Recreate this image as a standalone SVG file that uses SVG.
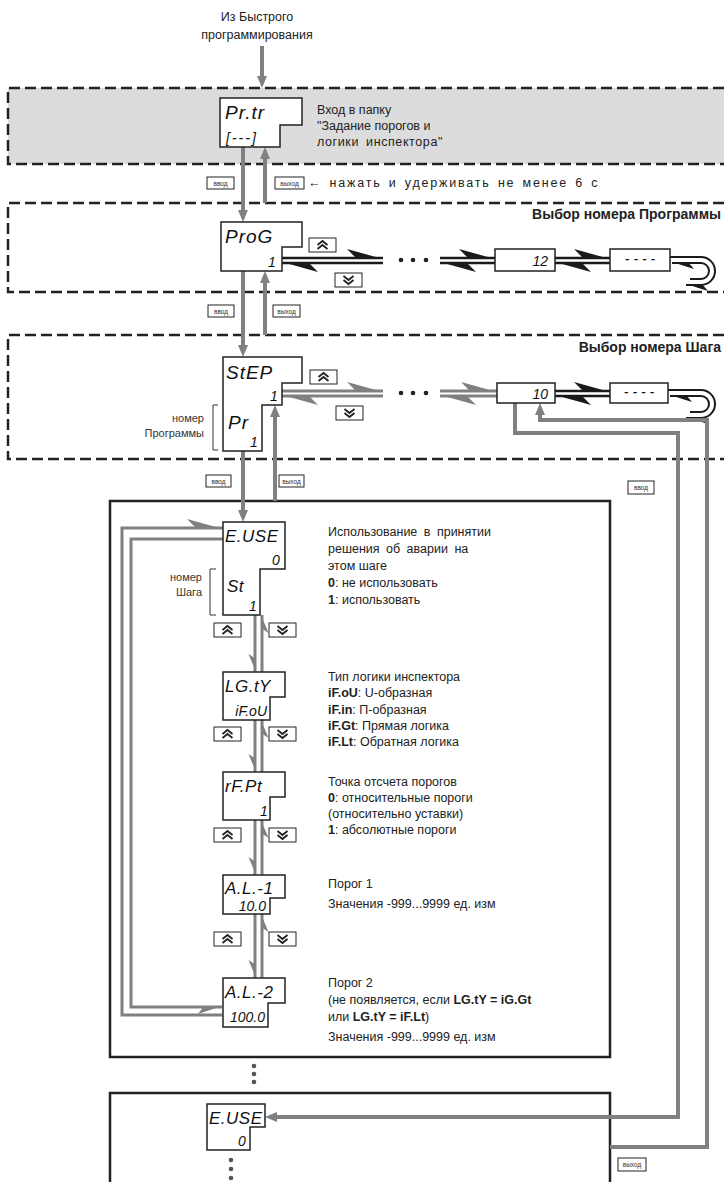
<svg xmlns="http://www.w3.org/2000/svg" width="724" height="1182" viewBox="0 0 724 1182">
<defs>
<style>
.t{font-family:"Liberation Sans",Arial,sans-serif;font-size:12.5px;fill:#222}
.b{font-weight:bold}
.ttl{font-family:"Liberation Sans",Arial,sans-serif;font-size:14px;font-weight:bold;fill:#222}
.sm{font-family:"Liberation Sans",Arial,sans-serif;font-size:11px;fill:#333}
.seg{font-family:"Liberation Sans",Arial,sans-serif;font-style:italic;font-size:19px;fill:#111;letter-spacing:1px}
.segm{font-family:"Liberation Sans",Arial,sans-serif;font-style:italic;font-size:17px;fill:#111;letter-spacing:0.5px}
.seg2{font-family:"Liberation Sans",Arial,sans-serif;font-style:italic;font-size:14px;fill:#111}
.disp{fill:#fff;stroke:#222;stroke-width:1.5}
.band{stroke:#222;stroke-width:2.5;stroke-dasharray:11 5}
.ga{fill:none;stroke:#808080;stroke-width:4}
.gh{fill:none;stroke:#808080;stroke-width:3}
.bh{fill:none;stroke:#1a1a1a;stroke-width:2.5}
.lb{fill:#fff;stroke:#222;stroke-width:1}
.lt{font-family:"Liberation Sans",Arial,sans-serif;font-size:6.5px;fill:#333}
.ch{fill:none;stroke:#222;stroke-width:1.8}
</style>
<marker id="ag" viewBox="0 0 12 10" refX="6" refY="5" markerWidth="12" markerHeight="10" markerUnits="userSpaceOnUse" orient="auto"><path d="M0,0 L12,5 L0,10 Z" fill="#808080"/></marker>
<marker id="hLb" viewBox="0 0 36 12" refX="36" refY="10" markerWidth="36" markerHeight="12" markerUnits="userSpaceOnUse" orient="auto"><path d="M36,11 L0,1 L10,11 Z" fill="#1a1a1a"/></marker>
<marker id="hLbS" viewBox="0 0 22 10" refX="22" refY="8" markerWidth="22" markerHeight="10" markerUnits="userSpaceOnUse" orient="auto"><path d="M22,9 L0,2 L6,9 Z" fill="#1a1a1a"/></marker>
<marker id="hLg" viewBox="0 0 36 12" refX="36" refY="10" markerWidth="36" markerHeight="12" markerUnits="userSpaceOnUse" orient="auto"><path d="M36,11 L0,1 L10,11 Z" fill="#808080"/></marker>
<marker id="hRg" viewBox="0 0 18 9" refX="18" refY="1" markerWidth="18" markerHeight="9" markerUnits="userSpaceOnUse" orient="auto"><path d="M18,0 L0,7.5 L5,0 Z" fill="#808080"/></marker>
<marker id="hRgB" viewBox="0 0 24 10" refX="24" refY="1" markerWidth="24" markerHeight="10" markerUnits="userSpaceOnUse" orient="auto"><path d="M24,0 L0,8 L6,0 Z" fill="#808080"/></marker>
<g id="bup"><rect x="0" y="0" width="27" height="14" class="lb" stroke-width="1.3"/><path class="ch" d="M8.5,7 L13.5,3 L18.5,7 M8.5,11 L13.5,7 L18.5,11"/></g>
<g id="bdn"><rect x="0" y="0" width="27" height="14" class="lb" stroke-width="1.3"/><path class="ch" d="M8.5,3 L13.5,7 L18.5,3 M8.5,7 L13.5,11 L18.5,7"/></g>
</defs>
<rect width="724" height="1182" fill="#fff"/>

<g id="band-entry"><path class="band" fill="#dcdcdc" d="M740,88 H8 V164 H740"/></g>
<g id="band-prog"><path class="band" fill="none" d="M740,203 H8 V292 H740"/>
<text class="ttl" x="721" y="219" text-anchor="end">Выбор номера Программы</text></g>
<g id="band-step"><path class="band" fill="none" d="M740,335 H8 V459 H740"/>
<text class="ttl" x="721" y="352" text-anchor="end">Выбор номера Шага</text></g>

<g id="big-box"><rect x="110" y="501" width="500" height="556" fill="none" stroke="#222" stroke-width="2.5"/></g>
<g id="lower-box"><path d="M110,1190 V1093 H610 V1190" fill="none" stroke="#222" stroke-width="2.5"/></g>

<g id="connectors">
<path class="ga" d="M262,46 V82" marker-end="url(#ag)"/>
<path class="ga" d="M243,147 V216" marker-end="url(#ag)"/>
<path class="ga" d="M265,203 V153" marker-end="url(#ag)"/>
<path class="ga" d="M243,271 V351" marker-end="url(#ag)"/>
<path class="ga" d="M265,335 V277" marker-end="url(#ag)"/>
<path class="ga" d="M243,451 V516" marker-end="url(#ag)"/>
<path class="ga" d="M275,501 V411" marker-end="url(#ag)"/>
<path class="bh" d="M282,258 H383" marker-end="url(#hLb)"/>
<path class="bh" d="M383,263 H282" marker-end="url(#hLb)"/>
<path class="bh" d="M440,258 H495" marker-end="url(#hLb)"/>
<path class="bh" d="M495,263 H440" marker-end="url(#hLb)"/>
<path class="bh" d="M555,258 H610" marker-end="url(#hLb)"/>
<path class="bh" d="M610,263 H555" marker-end="url(#hLb)"/>
<path fill="none" stroke="#1a1a1a" stroke-width="2" d="M670,257 H701 A14,14 0 0 1 701,285 H686" marker-end="url(#hLbS)"/>
<path fill="none" stroke="#1a1a1a" stroke-width="2" d="M690,279 H701 A8,8 0 0 0 701,263 H672" marker-end="url(#hLbS)"/>
<path class="gh" d="M282,391 H383" marker-end="url(#hLg)"/>
<path class="gh" d="M383,396 H282" marker-end="url(#hLg)"/>
<path class="gh" d="M440,391 H497" marker-end="url(#hLg)"/>
<path class="gh" d="M497,396 H440" marker-end="url(#hLg)"/>
<path class="bh" d="M555,391 H610" marker-end="url(#hLb)"/>
<path class="bh" d="M610,396 H555" marker-end="url(#hLb)"/>
<path fill="none" stroke="#1a1a1a" stroke-width="2" d="M668,390 H701 A14,14 0 0 1 701,418 H686" marker-end="url(#hLbS)"/>
<path fill="none" stroke="#1a1a1a" stroke-width="2" d="M690,412 H701 A8,8 0 0 0 701,396 H670" marker-end="url(#hLbS)"/>
<path class="ga" d="M515,403 V433 H678 V1117 H271" marker-end="url(#ag)"/>
<path class="ga" d="M610,1147 H707 V420 H540 V409" marker-end="url(#ag)"/>
<path class="gh" d="M255,615 V672" marker-end="url(#hRg)"/>
<path class="gh" d="M262,672 V615" marker-end="url(#hRg)"/>
<path class="gh" d="M255,720 V772" marker-end="url(#hRg)"/>
<path class="gh" d="M262,772 V720" marker-end="url(#hRg)"/>
<path class="gh" d="M255,820 V875" marker-end="url(#hRg)"/>
<path class="gh" d="M262,875 V820" marker-end="url(#hRg)"/>
<path class="gh" d="M255,914 V978" marker-end="url(#hRg)"/>
<path class="gh" d="M262,978 V914" marker-end="url(#hRg)"/>
<path class="gh" stroke-width="3.5" d="M222,1015 H122 V528 H223" marker-end="url(#hLg)"/>
<path class="gh" stroke-width="3.5" d="M223,539 H131 V1007 H222" marker-end="url(#hRgB)"/>
<circle cx="401" cy="260" r="2.3" fill="#222"/><circle cx="413" cy="260" r="2.3" fill="#222"/><circle cx="426" cy="260" r="2.3" fill="#222"/>
<circle cx="401" cy="393" r="2.3" fill="#222"/><circle cx="413" cy="393" r="2.3" fill="#222"/><circle cx="426" cy="393" r="2.3" fill="#222"/>
<circle cx="254" cy="1066" r="2.3" fill="#555"/><circle cx="254" cy="1074" r="2.3" fill="#555"/><circle cx="254" cy="1082" r="2.3" fill="#555"/>
<circle cx="231" cy="1160" r="2.3" fill="#555"/><circle cx="231" cy="1169" r="2.3" fill="#555"/><circle cx="231" cy="1178" r="2.3" fill="#555"/>
</g>

<g id="labels">
<rect class="lb" x="207" y="177" width="27" height="12"/><text class="lt" x="220.5" y="185.5" text-anchor="middle">ввод</text>
<rect class="lb" x="275" y="177" width="29" height="12"/><text class="lt" x="289.5" y="185.5" text-anchor="middle">выход</text>
<text class="t" x="308" y="187" letter-spacing="1.8" word-spacing="2">← нажать и удерживать не менее 6 с</text>
<rect class="lb" x="208" y="305" width="26" height="12"/><text class="lt" x="221" y="313.5" text-anchor="middle">ввод</text>
<rect class="lb" x="273" y="305" width="27" height="12"/><text class="lt" x="286.5" y="313.5" text-anchor="middle">выход</text>
<rect class="lb" x="206" y="475" width="25" height="12"/><text class="lt" x="218.5" y="483.5" text-anchor="middle">ввод</text>
<rect class="lb" x="279" y="475" width="25" height="12"/><text class="lt" x="291.5" y="483.5" text-anchor="middle">выход</text>
<rect class="lb" x="628" y="481" width="26" height="13"/><text class="lt" x="641" y="490" text-anchor="middle">ввод</text>
<rect class="lb" x="618" y="1158" width="28" height="13"/><text class="lt" x="632" y="1167" text-anchor="middle">выход</text>
</g>

<g id="n-source"><text class="t" x="257" y="21" text-anchor="middle" font-size="11">Из Быстрого</text><text class="t" x="257" y="39" text-anchor="middle" font-size="11">программирования</text></g>

<g id="n-prtr">
<path class="disp" d="M220,98 H302 V125 H280 V147 H220 Z"/>
<text class="seg" x="225" y="119" letter-spacing="3">Pr.tr</text>
<text class="seg2" x="226" y="143" letter-spacing="2">[---]</text>
<text class="t" x="317" y="114">Вход в папку</text>
<text class="t" x="317" y="130">"Задание порогов и</text>
<text class="t" x="317" y="146" word-spacing="3" letter-spacing="0.6">логики инспектора"</text>
</g>

<g id="n-prog">
<path class="disp" d="M221,222 H302 V247 H282 V271 H221 Z"/>
<text class="seg" x="225" y="243" letter-spacing="6">ProG</text>
<text class="seg2" x="268" y="267">1</text>
<use href="#bup" x="309" y="238"/>
<use href="#bdn" x="335" y="273"/>
</g>
<g id="n-prog12"><rect class="disp" x="495" y="249" width="60" height="22"/><text class="seg2" x="548" y="266" text-anchor="end">12</text></g>
<g id="n-progend"><rect class="disp" x="610" y="249" width="60" height="22"/><text class="seg2" x="640" y="264" text-anchor="middle" fill="#555">- - - -</text></g>

<g id="n-step">
<path class="disp" d="M223,357 H302 V383 H282 V405 H262 V451 H223 Z"/>
<text class="seg" x="226" y="379" letter-spacing="4">StEP</text>
<text class="seg2" x="270" y="401">1</text>
<text class="seg" x="228" y="429" font-size="18">Pr</text>
<text class="seg2" x="250" y="447">1</text>
<path d="M218,405 H213 V450 H218" fill="none" stroke="#333" stroke-width="1"/>
<text class="sm" x="204" y="422" text-anchor="end">номер</text>
<text class="sm" x="204" y="437" text-anchor="end">Программы</text>
<use href="#bup" x="310" y="370"/>
<use href="#bdn" x="336" y="406"/>
</g>
<g id="n-step10"><rect class="disp" x="497" y="383" width="58" height="20"/><text class="seg2" x="548" y="399" text-anchor="end">10</text></g>
<g id="n-stepend"><rect class="disp" x="610" y="383" width="58" height="20"/><text class="seg2" x="639" y="397" text-anchor="middle" fill="#555">- - - -</text></g>

<g id="n-euse">
<path class="disp" d="M223,522 H285 V569 H260 V615 H223 Z"/>
<text class="segm" x="225" y="542">E.USE</text>
<text class="seg2" x="272" y="565">0</text>
<text class="segm" x="227" y="592">St</text>
<text class="seg2" x="249" y="611">1</text>
<path d="M216,569 H210 V615 H216" fill="none" stroke="#333" stroke-width="1"/>
<text class="sm" x="202" y="581" text-anchor="end">номер</text>
<text class="sm" x="202" y="596" text-anchor="end">Шага</text>
<use href="#bup" x="214" y="623"/>
<use href="#bdn" x="269" y="623"/>
<text class="t" x="328" y="536" word-spacing="3">Использование в принятии</text>
<text class="t" x="328" y="553" word-spacing="3">решения об аварии на</text>
<text class="t" x="328" y="570">этом шаге</text>
<text class="t" x="328" y="587"><tspan class="b">0</tspan>: не использовать</text>
<text class="t" x="328" y="604"><tspan class="b">1</tspan>: использовать</text>
</g>

<g id="n-lgty">
<path class="disp" d="M223,672 H285 V697 H270 V720 H223 Z"/>
<text class="segm" x="225" y="692" letter-spacing="1.5">LG.tY</text>
<text class="seg2" x="267" y="716" text-anchor="end" font-size="11.5">iF.oU</text>
<use href="#bup" x="214" y="727"/>
<use href="#bdn" x="269" y="727"/>
<text class="t" x="328" y="681">Тип логики инспектора</text>
<text class="t" x="328" y="697"><tspan class="b">iF.oU</tspan>: U-образная</text>
<text class="t" x="328" y="714"><tspan class="b">iF.in</tspan>: П-образная</text>
<text class="t" x="328" y="730"><tspan class="b">iF.Gt</tspan>: Прямая логика</text>
<text class="t" x="328" y="746"><tspan class="b">iF.Lt</tspan>:  Обратная логика</text>
</g>

<g id="n-rfpt">
<path class="disp" d="M223,772 H285 V797 H270 V820 H223 Z"/>
<text class="segm" x="225" y="792" letter-spacing="2">rF.Pt</text>
<text class="seg2" x="260" y="816">1</text>
<use href="#bup" x="214" y="828"/>
<use href="#bdn" x="269" y="828"/>
<text class="t" x="328" y="786">Точка отсчета порогов</text>
<text class="t" x="328" y="802"><tspan class="b">0</tspan>: относительные пороги</text>
<text class="t" x="328" y="818">(относительно уставки)</text>
<text class="t" x="328" y="834"><tspan class="b">1</tspan>: абсолютные пороги</text>
</g>

<g id="n-al1">
<path class="disp" d="M223,875 H285 V898 H270 V914 H223 Z"/>
<text class="segm" x="225" y="894" letter-spacing="1">A.L.-1</text>
<text class="seg2" x="266" y="911" text-anchor="end" font-size="11">10.0</text>
<use href="#bup" x="214" y="932"/>
<use href="#bdn" x="269" y="932"/>
<text class="t" x="328" y="888">Порог 1</text>
<text class="t" x="328" y="908" font-size="11.5">Значения -999...9999 ед. изм</text>
</g>

<g id="n-al2">
<path class="disp" d="M223,978 H285 V1003 H268 V1027 H223 Z"/>
<text class="segm" x="225" y="998" letter-spacing="1">A.L.-2</text>
<text class="seg2" x="265" y="1022" text-anchor="end" font-size="11">100.0</text>
<text class="t" x="328" y="987">Порог 2</text>
<text class="t" x="328" y="1004">(не появляется, если <tspan class="b">LG.tY = iG.Gt</tspan></text>
<text class="t" x="328" y="1021">или <tspan class="b">LG.tY = iF.Lt</tspan>)</text>
<text class="t" x="328" y="1041" font-size="11.5">Значения -999...9999 ед. изм</text>
</g>

<g id="n-euse2">
<path class="disp" d="M207,1104 H265 V1127 H250 V1150 H207 Z"/>
<text class="segm" x="209" y="1124" letter-spacing="0">E.USE</text>
<text class="seg2" x="238" y="1146">0</text>
</g>
</svg>
